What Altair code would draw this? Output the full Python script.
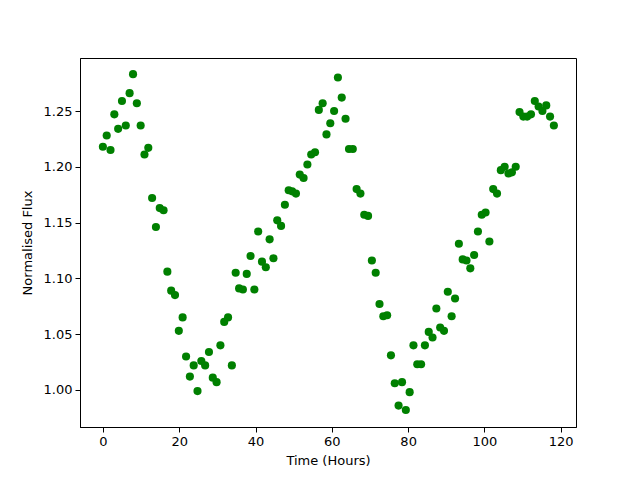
import altair as alt
import pandas as pd

time_hours = [
    0.0, 1.0, 2.0, 3.0, 4.0, 5.0, 6.0, 7.0, 7.9, 8.9,
    9.9, 10.9, 11.9, 12.9, 13.9, 14.9, 15.9, 16.9, 17.9, 18.9,
    19.9, 20.9, 21.8, 22.8, 23.8, 24.8, 25.8, 26.8, 27.8, 28.8,
    29.8, 30.8, 31.8, 32.8, 33.8, 34.8, 35.7, 36.7, 37.7, 38.7,
    39.7, 40.7, 41.7, 42.7, 43.7, 44.7, 45.7, 46.7, 47.7, 48.7,
    49.6, 50.6, 51.6, 52.6, 53.6, 54.6, 55.6, 56.6, 57.6, 58.6,
    59.6, 60.6, 61.6, 62.6, 63.6, 64.5, 65.5, 66.5, 67.5, 68.5,
    69.5, 70.5, 71.5, 72.5, 73.5, 74.5, 75.5, 76.5, 77.5, 78.4,
    79.4, 80.4, 81.4, 82.4, 83.4, 84.4, 85.4, 86.4, 87.4, 88.4,
    89.4, 90.4, 91.4, 92.3, 93.3, 94.3, 95.3, 96.3, 97.3, 98.3,
    99.3, 100.3, 101.3, 102.3, 103.3, 104.3, 105.3, 106.3, 107.2, 108.2,
    109.2, 110.2, 111.2, 112.2, 113.2, 114.2, 115.2, 116.2, 117.2, 118.2,
]

norm_flux = [
    1.218, 1.228, 1.215, 1.247, 1.234, 1.259, 1.237, 1.266, 1.283, 1.257,
    1.237, 1.211, 1.217, 1.172, 1.146, 1.163, 1.161, 1.106, 1.089, 1.085,
    1.053, 1.065, 1.030, 1.012, 1.022, 0.999, 1.026, 1.022, 1.034, 1.011,
    1.007, 1.040, 1.061, 1.065, 1.022, 1.105, 1.091, 1.090, 1.104, 1.120,
    1.090, 1.142, 1.115, 1.110, 1.135, 1.118, 1.152, 1.147, 1.166, 1.179,
    1.178, 1.176, 1.193, 1.190, 1.202, 1.211, 1.213, 1.251, 1.257, 1.229,
    1.239, 1.250, 1.280, 1.262, 1.243, 1.216, 1.216, 1.180, 1.176, 1.157,
    1.156, 1.116, 1.105, 1.077, 1.066, 1.067, 1.031, 1.006, 0.986, 1.007,
    0.982, 0.998, 1.040, 1.023, 1.023, 1.040, 1.052, 1.047, 1.073, 1.056,
    1.053, 1.088, 1.066, 1.082, 1.131, 1.117, 1.116, 1.109, 1.121, 1.142,
    1.157, 1.159, 1.133, 1.180, 1.176, 1.197, 1.200, 1.194, 1.195, 1.200,
    1.249, 1.245, 1.245, 1.247, 1.259, 1.254, 1.250, 1.255, 1.245, 1.237,
]

x_ticks = [0, 20, 40, 60, 80, 100, 120]
y_ticks = [1.00, 1.05, 1.10, 1.15, 1.20, 1.25]

df = pd.DataFrame({"t": time_hours, "flux": norm_flux})

font = "DejaVu Sans"

chart = (
    alt.Chart(df)
    .mark_circle(color="#008000", opacity=1, size=66)
    .encode(
        x=alt.X(
            "t:Q",
            scale=alt.Scale(domain=[-6.0, 124.0], nice=False, zero=False),
            axis=alt.Axis(values=x_ticks, format="d", title="Time (Hours)"),
        ),
        y=alt.Y(
            "flux:Q",
            scale=alt.Scale(domain=[0.9668, 1.2975], nice=False, zero=False),
            axis=alt.Axis(values=y_ticks, format=".2f", title="Normalised Flux"),
        ),
    )
    .properties(
        width=496,
        height=369,
        autosize=alt.AutoSizeParams(type="none"),
        padding={"left": 72, "top": 50, "right": 56, "bottom": 45},
    )
    .configure_view(stroke="black", strokeWidth=1)
    .configure_axis(
        grid=False,
        domainColor="black",
        domainWidth=1,
        tickColor="black",
        tickWidth=1,
        tickSize=5,
        labelColor="black",
        labelFont=font,
        labelFontSize=13,
        labelPadding=3,
        titleFont=font,
        titleFontSize=13,
        titleFontWeight="normal",
        titleColor="black",
    )
    .configure_axisX(titlePadding=6)
    .configure_axisY(titlePadding=9)
)

chart.save("out.html", embed_options={"renderer": "svg", "actions": False})
